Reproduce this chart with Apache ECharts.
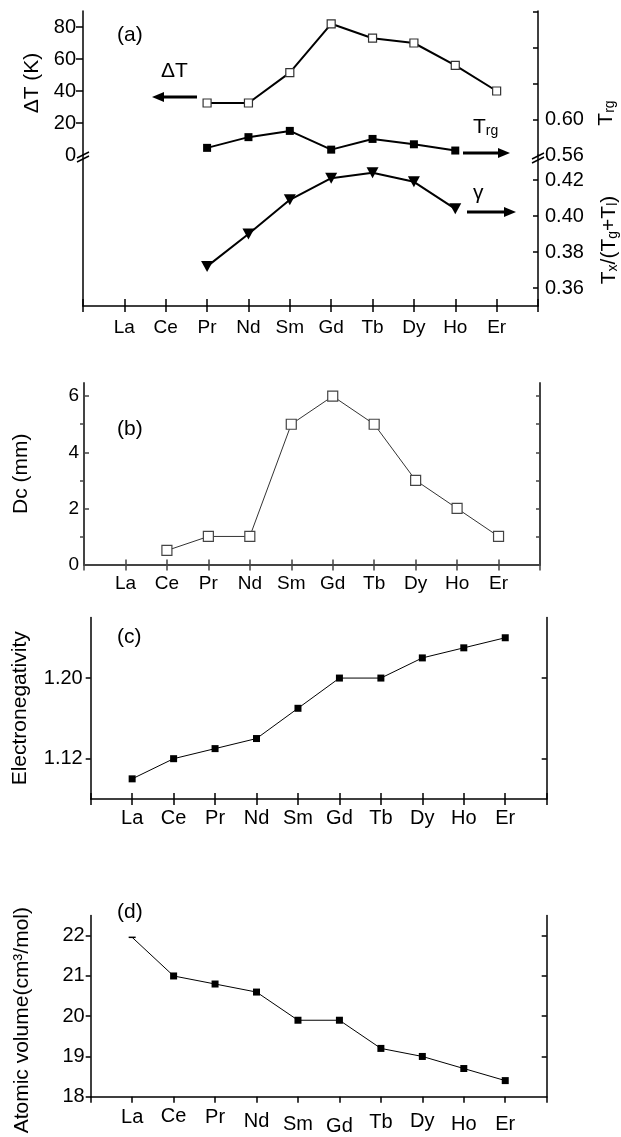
<!DOCTYPE html>
<html>
<head>
<meta charset="utf-8">
<script src="https://cdn.jsdelivr.net/npm/echarts@6/dist/echarts.min.js"></script>
<style>
  html, body { margin: 0; padding: 0; background: #fff; }
  #chart { width: 621px; height: 1137px; }
</style>
</head>
<body>
<div id="chart"></div>
<script>
// rare earth element on the x axis of every panel
const elements = ['La', 'Ce', 'Pr', 'Nd', 'Sm', 'Gd', 'Tb', 'Dy', 'Ho', 'Er'];

// (a) thermal parameters
const deltaT = [null, null, 32.5, 32.5, 51.5, 82, 73, 70, 56, 40];
const trg = [null, null, 0.568, 0.580, 0.587, 0.566, 0.578, 0.572, 0.565, null];
const gamma = [null, null, 0.372, 0.390, 0.409, 0.421, 0.424, 0.419, 0.404, null];
// (b) critical diameter
const dc = [null, 0.5, 1, 1, 5, 6, 5, 3, 2, 1];
// (c) electronegativity
const electroneg = [1.10, 1.12, 1.13, 1.14, 1.17, 1.20, 1.20, 1.22, 1.23, 1.24];
// (d) atomic volume
const atomicVolume = [21.96, 21.0, 20.8, 20.6, 19.9, 19.9, 19.2, 19.0, 18.7, 18.4];

// tick values
const deltaTTicks = [20, 40, 60, 80];
const deltaTLabels = [0, 20, 40, 60, 80];
const trgTicks = [0.60, 0.64, 0.68, 0.72];
const trgLabels = [0.56, 0.60];
const gammaTicks = [0.36, 0.38, 0.40, 0.42];
const dcTicks = [0, 2, 4, 6];
const dcMinorTicks = [1, 3, 5];
const dcRightTicks = [1, 2, 3, 4, 5, 6];
const enTicks = [1.12, 1.20];
const avTicks = [18, 19, 20, 21, 22];
const avRightTicks = [19, 20, 21, 22];

const font = '"Liberation Sans", Arial, sans-serif';
const cats = [''].concat(elements, ['']);
const pad = arr => [null].concat(arr, [null]);

// (d) labels are not on one line in the original
const dLabelDrop = { La: 1, Ce: 0, Pr: 1, Nd: 5, Sm: 8, Gd: 10, Tb: 6, Dy: 5, Ho: 8, Er: 8 };
const dRich = {};
elements.forEach(e => {
  dRich[e] = { fontSize: 20, fontFamily: font, color: '#000', padding: [dLabelDrop[e], 0, 0, 0] };
});

function xMain(grid, o) {
  return {
    type: 'category', gridIndex: grid, position: 'bottom', data: cats, boundaryGap: false,
    axisLine: { show: true, onZero: false, lineStyle: { color: o.color || '#000', width: o.lw || 1.5 } },
    axisTick: { show: true, interval: 0, length: o.tick || 6, lineStyle: { color: o.color || '#000', width: 1.5 } },
    axisLabel: {
      show: o.labels !== false, interval: 0, margin: o.margin || 10, color: '#000',
      fontFamily: font, fontSize: o.fontSize || 20,
      formatter: o.formatter, rich: o.rich
    },
    splitLine: { show: false }
  };
}

function xInner(grid, len, color) {
  return {
    type: 'category', gridIndex: grid, position: 'bottom', data: cats, boundaryGap: false,
    axisLine: { show: false, onZero: false },
    axisTick: { show: true, inside: true, interval: 0, length: len, lineStyle: { color: color || '#000', width: 1.5 } },
    axisLabel: { show: false },
    splitLine: { show: false }
  };
}

function yAxis(grid, o) {
  return {
    type: 'value', gridIndex: grid, position: o.position || 'left',
    min: o.min, max: o.max,
    axisLine: { show: o.line !== false, onZero: false, lineStyle: { color: o.color || '#000', width: o.lw || 1.5 } },
    axisTick: o.ticks ? {
      show: true, inside: !!o.inside, length: o.tick || 6, customValues: o.ticks,
      lineStyle: { color: o.color || '#000', width: 1.5 }
    } : { show: false },
    axisLabel: o.labels ? {
      show: true, customValues: o.labels, margin: o.margin || 8, color: '#000',
      fontFamily: font, fontSize: o.fontSize || 20,
      formatter: o.formatter
    } : { show: false },
    splitLine: { show: false },
    name: o.name, nameLocation: 'middle', nameGap: o.nameGap, nameRotate: 90,
    nameTextStyle: { fontFamily: font, fontSize: 21, color: '#000', padding: o.namePad }
  };
}

const fix2 = v => v.toFixed(2);

const grids = [
  { left: 83, top: 11, width: 455, height: 144 },
  { left: 83, top: 155, width: 455, height: 151 },
  { left: 84, top: 383, width: 456, height: 181.5 },
  { left: 90.7, top: 617.6, width: 456, height: 181.4 },
  { left: 90.7, top: 915.6, width: 456, height: 181.1 }
].map(g => Object.assign({ outerBoundsMode: 'none', containLabel: false }, g));

const xAxes = [
  Object.assign(xMain(0, {}), { show: false }),           // 0
  xMain(1, { fontSize: 19, margin: 12 }),                 // 1
  xInner(1, 7),                                           // 2
  xMain(2, { fontSize: 19, margin: 10, color: '#444', lw: 2 }), // 3
  xInner(2, 5, '#444'),                                   // 4
  xMain(3, { margin: 9 }),                                // 5
  xInner(3, 6),                                           // 6
  xMain(4, { margin: 10, formatter: v => v ? '{' + v + '|' + v + '}' : '', rich: dRich }) // 7
];

const yAxes = [
  yAxis(0, { min: 0, max: 90, ticks: deltaTTicks, labels: deltaTLabels, tick: 7, margin: 7,
             name: 'ΔT (K)', nameGap: 40 }),                                              // 0
  yAxis(0, { position: 'right', min: 0.56, max: 0.7213, ticks: trgTicks, inside: true, tick: 5,
             labels: trgLabels, margin: 7, formatter: fix2 }),                            // 1
  yAxis(1, { min: 0, max: 1 }),                                                           // 2
  yAxis(1, { position: 'right', min: 0.35, max: 0.43389, ticks: gammaTicks, inside: true, tick: 5,
             labels: gammaTicks, margin: 7, formatter: fix2 }),                           // 3
  yAxis(2, { min: 0, max: 6.47, ticks: dcTicks, inside: true, tick: 5, labels: dcTicks, margin: 5,
             fontSize: 19, color: '#444', lw: 2, name: 'Dc (mm)', nameGap: 52 }),         // 4
  yAxis(2, { min: 0, max: 6.47, line: false, ticks: dcMinorTicks, tick: 4, color: '#444' }), // 5
  yAxis(2, { position: 'right', min: 0, max: 6.47, ticks: dcRightTicks, inside: true, tick: 4,
             color: '#444', lw: 2 }),                                                     // 6
  yAxis(3, { min: 1.08, max: 1.26, ticks: enTicks, tick: 5, labels: enTicks, margin: 8, formatter: fix2,
             name: 'Electronegativity', nameGap: 60 }),                                   // 7
  yAxis(3, { position: 'right', min: 1.08, max: 1.26, ticks: enTicks, inside: true, tick: 5 }), // 8
  yAxis(4, { min: 18, max: 22.5, ticks: avTicks, tick: 5, labels: avTicks, margin: 6,
             name: 'Atomic volume(cm³/mol)', nameGap: 58, namePad: [0, 28, 0, 0] }),      // 9
  yAxis(4, { position: 'right', min: 18, max: 22.5, ticks: avRightTicks, inside: true, tick: 5 }) // 10
];

function arrow(x1, x2, y) {
  const dir = x2 > x1 ? 1 : -1;
  const head = 12;
  return [
    { type: 'line', shape: { x1: x1, y1: y, x2: x2 - dir * head * 0.8, y2: y }, style: { stroke: '#000', lineWidth: 3 } },
    { type: 'polygon', shape: { points: [[x2, y], [x2 - dir * head, y - 5], [x2 - dir * head, y + 5]] }, style: { fill: '#000' } }
  ];
}

function breakMark(x, y) {
  return [y, y + 4].map(yy => ({
    type: 'line', shape: { x1: x - 6, y1: yy + 3, x2: x + 6, y2: yy - 3 },
    style: { stroke: '#000', lineWidth: 1.5 }
  }));
}

function label(text, x, y, size) {
  return { type: 'text', x: x, y: y, style: { text: text, fontFamily: font, fontSize: size || 21, fill: '#000', verticalAlign: 'middle' } };
}

const subRich = {
  n: { fontFamily: font, fontSize: 21, fill: '#000' },
  s: { fontFamily: font, fontSize: 14, fill: '#000', padding: [9, 0, 0, 0] }
};

const graphic = [
  label('(a)', 117, 35),
  label('ΔT', 161, 71),
  ...arrow(197, 152, 97),
  { type: 'text', x: 473, y: 127, style: { text: '{n|T}{s|rg}', rich: subRich, verticalAlign: 'middle' } },
  ...arrow(463, 510, 153),
  label('γ', 473, 193),
  ...arrow(467, 516, 212),
  ...breakMark(83, 155),
  ...breakMark(538, 156),
  { type: 'text', x: 606, y: 113, rotation: Math.PI / 2,
    style: { text: '{n|T}{s|rg}', rich: subRich, align: 'center', verticalAlign: 'middle' } },
  { type: 'text', x: 609, y: 240, rotation: Math.PI / 2,
    style: { text: '{n|T}{s|x}{n|/(T}{s|g}{n|+T}{s|l}{n|)}', rich: subRich, align: 'center', verticalAlign: 'middle' } },
  label('(b)', 117, 429),
  label('(c)', 117, 637),
  label('(d)', 117, 912)
];

function lineSeries(name, xi, yi, data, o) {
  return {
    name: name, type: 'line', xAxisIndex: xi, yAxisIndex: yi, data: pad(data),
    symbol: o.symbol || 'rect', symbolSize: o.size, symbolRotate: o.rotate || 0,
    showSymbol: true, connectNulls: false,
    lineStyle: { color: o.lineColor || '#000', width: o.lw || 1 },
    itemStyle: o.open
      ? { color: '#fff', borderColor: o.border || '#333', borderWidth: 1.2 }
      : { color: '#000', borderWidth: 0 },
    z: 3
  };
}

const avSeries = lineSeries('Atomic volume', 7, 9, atomicVolume, { size: 7 });
avSeries.symbolSize = (v, p) => p.dataIndex === 1 ? [7, 1.5] : 7;

const option = {
  animation: false,
  backgroundColor: '#fff',
  grid: grids,
  xAxis: xAxes,
  yAxis: yAxes,
  graphic: graphic,
  series: [
    lineSeries('ΔT', 0, 0, deltaT, { size: 8, open: true, lw: 2 }),
    lineSeries('Trg', 0, 1, trg, { size: 8, lw: 2 }),
    lineSeries('γ', 1, 3, gamma, { symbol: 'triangle', size: [12, 11], rotate: 180, lw: 2 }),
    lineSeries('Dc', 3, 4, dc, { size: 10, open: true, border: '#444', lineColor: '#333' }),
    lineSeries('Electronegativity', 5, 7, electroneg, { size: 7 }),
    avSeries
  ]
};

const chart = echarts.init(document.getElementById('chart'));
chart.setOption(option);
</script>
</body>
</html>
